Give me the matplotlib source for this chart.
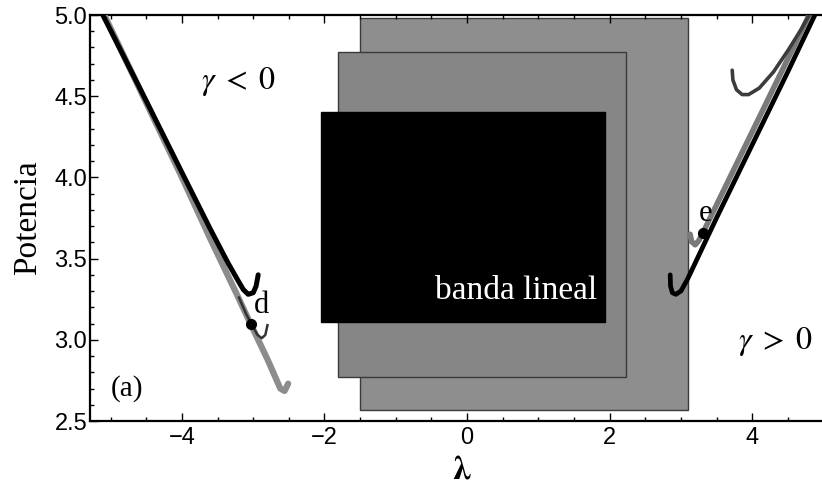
import matplotlib
matplotlib.use("Agg")
import matplotlib.pyplot as plt
from matplotlib.patches import Rectangle
from matplotlib.ticker import MultipleLocator

plt.rcParams["mathtext.fontset"] = "stix"

# Shaded regions (lambda_min, lambda_max, P_min, P_max)
outer_band = [-1.50, 3.10, 2.57, 4.98]
middle_band = [-1.81, 2.23, 2.77, 4.77]
linear_band = [-2.05, 1.94, 3.11, 4.40]

# gamma < 0 : upper (black) branch
neg_upper_lam = [-5.11, -4.50, -4.00, -3.60, -3.35, -3.22, -3.14, -3.07, -3.00, -2.96, -2.93]
neg_upper_pow = [5.00, 4.47, 4.03, 3.68, 3.47, 3.37, 3.31, 3.28, 3.29, 3.33, 3.40]
# gamma < 0 : lower (grey) branch
neg_lower_lam = [-5.09, -4.00, -3.60, -3.23, -3.05, -2.80, -2.62, -2.56, -2.51]
neg_lower_pow = [5.00, 4.00, 3.62, 3.28, 3.11, 2.88, 2.70, 2.685, 2.73]
# gamma < 0 : short branch through point d
neg_d_lam = [-3.20, -3.10, -3.03, -2.94, -2.88, -2.83, -2.80]
neg_d_pow = [3.26, 3.16, 3.10, 3.03, 3.01, 3.03, 3.09]

# gamma > 0 : black branch
pos_main_lam = [2.85, 2.855, 2.88, 2.93, 3.00, 3.09, 3.50, 4.00, 4.50, 4.88]
pos_main_pow = [3.40, 3.33, 3.29, 3.28, 3.30, 3.37, 3.75, 4.20, 4.65, 5.00]
# gamma > 0 : grey branch through point e
pos_e_lam = [3.13, 3.15, 3.20, 3.25, 3.31, 3.60, 4.00, 4.40, 4.80]
pos_e_pow = [3.65, 3.605, 3.585, 3.61, 3.66, 3.92, 4.28, 4.64, 5.00]
# gamma > 0 : upper branch
pos_top_lam = [3.72, 3.73, 3.78, 3.86, 3.95, 4.10, 4.30, 4.50, 4.70, 4.80]
pos_top_pow = [4.66, 4.60, 4.54, 4.51, 4.51, 4.55, 4.65, 4.78, 4.92, 5.00]

# marked solutions
point_d = (-3.03, 3.10)
point_e = (3.31, 3.66)

x_ticks = [-4, -2, 0, 2, 4]
y_ticks = [2.5, 3.0, 3.5, 4.0, 4.5, 5.0]

fig = plt.figure(figsize=(8.22, 4.84), dpi=100)
ax = fig.add_axes([90 / 822, 63 / 484, 732 / 822, 406 / 484])

for (x0, x1, y0, y1), fc in ((outer_band, "#8e8e8e"), (middle_band, "#868686")):
    ax.add_patch(Rectangle((x0, y0), x1 - x0, y1 - y0, facecolor=fc,
                           edgecolor="#3a3a3a", linewidth=1.0, zorder=1))
x0, x1, y0, y1 = linear_band
ax.add_patch(Rectangle((x0, y0), x1 - x0, y1 - y0, facecolor="black",
                       edgecolor="black", zorder=2))
ax.text(1.82, 3.30, "banda lineal", color="white", ha="right", va="center",
        family="Liberation Serif", fontsize=24, zorder=3)

# curves
ax.plot(neg_lower_lam, neg_lower_pow, color="#8c8c8c", lw=4.5,
        solid_capstyle="round", zorder=4)
ax.plot(neg_d_lam, neg_d_pow, color="#333333", lw=1.8, zorder=5)
ax.plot(neg_upper_lam, neg_upper_pow, color="black", lw=3.6,
        solid_capstyle="round", zorder=6)

ax.plot(pos_e_lam, pos_e_pow, color="#7a7a7a", lw=4.0,
        solid_capstyle="round", zorder=4)
ax.plot(pos_main_lam, pos_main_pow, color="black", lw=3.4,
        solid_capstyle="round", zorder=6)
ax.plot(pos_top_lam, pos_top_pow, color="#3c3c3c", lw=2.6,
        solid_capstyle="round", zorder=5)

ax.plot(*point_d, "o", color="black", ms=7, zorder=7)
ax.plot(*point_e, "o", color="black", ms=7, zorder=7)

serif = "Liberation Serif"
ax.text(-2.88, 3.21, "d", family=serif, fontsize=22, ha="center", va="center", zorder=8)
ax.text(3.34, 3.78, "e", family=serif, fontsize=22, ha="center", va="center", zorder=8)
ax.text(-3.21, 4.59, r"$\gamma\;<\;0$", fontsize=23, ha="center", va="center")
ax.text(4.32, 2.99, r"$\gamma\;>\;0$", fontsize=23, ha="center", va="center")
ax.text(-4.77, 2.70, "(a)", family=serif, fontsize=21, ha="center", va="center")

ax.set_xlim(-5.29, 4.98)
ax.set_ylim(2.5, 5.0)
ax.set_xticks(x_ticks)
ax.set_yticks(y_ticks)
ax.set_xticklabels([f"{t}".replace("-", "\u2212") for t in x_ticks])
ax.set_yticklabels([f"{t:.1f}" for t in y_ticks])
ax.xaxis.set_minor_locator(MultipleLocator(0.5))
ax.yaxis.set_minor_locator(MultipleLocator(0.1))
ax.tick_params(which="both", direction="in", top=True, right=False,
               labelsize=17, width=1.0)
ax.tick_params(which="major", length=6)
ax.tick_params(which="minor", length=3)
ax.tick_params(axis="y", pad=2)
ax.tick_params(axis="x", pad=4)
for lbl in ax.get_xticklabels() + ax.get_yticklabels():
    lbl.set_family("Liberation Sans")

ax.spines["right"].set_visible(False)
for side in ("left", "bottom", "top"):
    ax.spines[side].set_linewidth(1.6)

ax.set_ylabel("Potencia", family=serif, fontsize=24, va="center")
ax.yaxis.set_label_coords(-0.085, 0.5)
ax.set_xlabel(r"$\boldsymbol{\lambda}$", fontsize=24, va="center")
ax.xaxis.set_label_coords(0.508, -0.118)

fig.savefig("out.png", dpi=100)
